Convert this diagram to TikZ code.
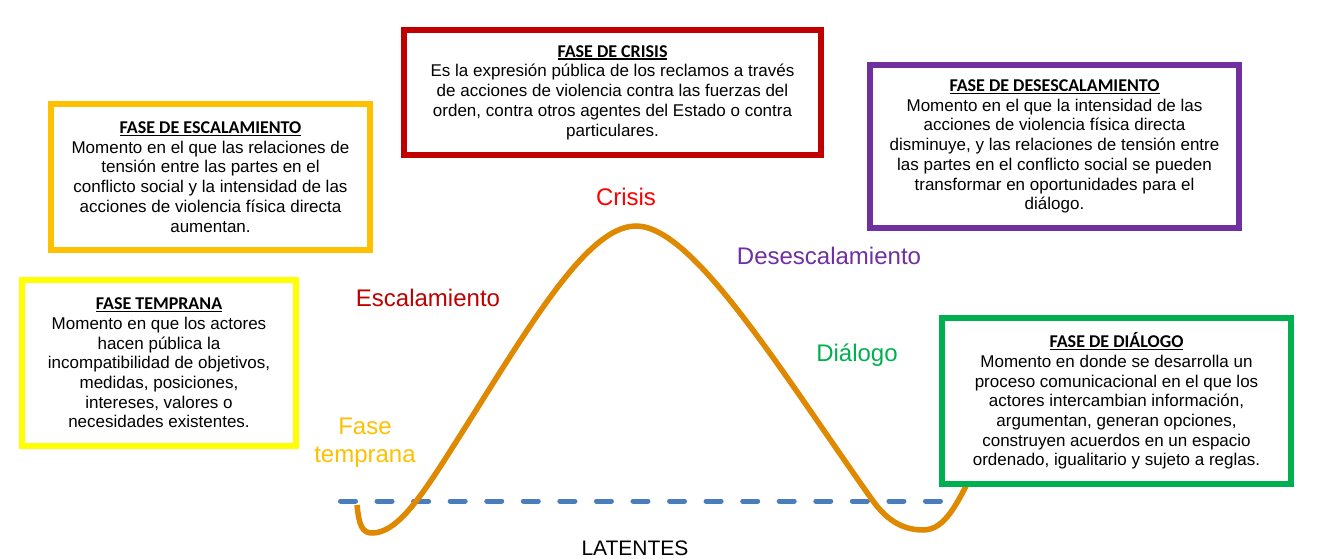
\documentclass[tikz,border=0pt]{standalone}
\usepackage{fontspec}
\setmainfont{Liberation Sans}
\newfontfamily\titlefont{Carlito}
\definecolor{cEsc}{HTML}{FFC000}
\definecolor{cTem}{HTML}{FFFF00}
\definecolor{cCri}{HTML}{C00000}
\definecolor{cRed}{HTML}{FF0000}
\definecolor{cDes}{HTML}{7030A0}
\definecolor{cDia}{HTML}{00B050}
\definecolor{cCurve}{HTML}{DE8900}
\definecolor{cDash}{HTML}{4A7EBB}
\newcommand\ttl[1]{{\titlefont\bfseries\fontsize{18}{19.7}\selectfont\setbox0\hbox{#1}\rlap{\rule[-2.3pt]{\wd0}{1.2pt}}\box0}}
\begin{document}
\begin{tikzpicture}[x=1pt,y=-1pt,
  box/.style={draw, line width=6pt, fill=white, align=center, inner sep=0pt,
    font=\fontsize{17}{19.7}\selectfont},
  lbl/.style={font=\fontsize{24}{28}\selectfont, anchor=base, inner sep=0pt},
  curve/.style={draw=cCurve, line width=5.5pt},
  dashline/.style={draw=cDash, line width=5pt, line cap=round, dash pattern=on 15pt off 21.56pt}]
\fill[white] (0,0) rectangle (1319,559);
\useasboundingbox (0,0) rectangle (1319,559);

% baseline (dashed)
\coordinate (d1) at (340.5,501);
\coordinate (d2) at (940.5,501);
\draw[dashline] (d1) -- (d2);

% curve
\coordinate (c0) at (357,505);
\coordinate (c1) at (373,533);
\coordinate (c2) at (440,467);
\coordinate (c3) at (636,226);
\coordinate (c4) at (873,501);
\coordinate (c5) at (923,530);
\coordinate (c6) at (978,462);
\draw[curve] (c0) .. controls (359,525) and (362,533.5) .. (c1)
  .. controls (395,532) and (415,505) .. (c2)
  .. controls (520,343) and (583,226) .. (c3)
  .. controls (693,226) and (780,370) .. (c4)
  .. controls (888,522) and (905,530) .. (c5)
  .. controls (946,530) and (958,502) .. (c6);

% boxes
\node[box, draw=cEsc, minimum width=319pt, minimum height=146pt] (esc) at (210.5,177)
 {\ttl{FASE DE ESCALAMIENTO}\\Momento en el que las relaciones de\\tensión entre las partes en el\\conflicto social y la intensidad de las\\acciones de violencia física directa\\aumentan.};
\node[box, draw=cTem, minimum width=274pt, minimum height=166pt] (tem) at (159,363)
 {\ttl{FASE TEMPRANA}\\Momento en que los actores\\hacen pública la\\incompatibilidad de objetivos,\\medidas, posiciones,\\intereses, valores o\\necesidades existentes.};
\node[box, draw=cCri, minimum width=417pt, minimum height=125pt] (cri) at (612.5,92.5)
 {\ttl{FASE DE CRISIS}\\Es la expresión pública de los reclamos a través\\de acciones de violencia contra las fuerzas del\\orden, contra otros agentes del Estado o contra\\particulares.};
\node[box, draw=cDes, minimum width=369pt, minimum height=163pt] (des) at (1054.5,146.5)
 {\ttl{FASE DE DESESCALAMIENTO}\\Momento en el que la intensidad de las\\acciones de violencia física directa\\disminuye, y las relaciones de tensión entre\\las partes en el conflicto social se pueden\\transformar en oportunidades para el\\diálogo.};
\node[box, draw=cDia, minimum width=349pt, minimum height=166pt] (dia) at (1116.5,401)
 {\ttl{FASE DE DIÁLOGO}\\Momento en donde se desarrolla un\\proceso comunicacional en el que los\\actores intercambian información,\\argumentan, generan opciones,\\construyen acuerdos en un espacio\\ordenado, igualitario y sujeto a reglas.};

% phase labels
\node[lbl, text=cRed] (lcri) at (626,205) {Crisis};
\node[lbl, text=cCri] (lesc) at (428,306) {Escalamiento};
\node[lbl, text=cDes] (ldes) at (829,264) {Desescalamiento};
\node[lbl, text=cDia] (ldia) at (857,361) {Diálogo};
\node[lbl, text=cEsc, anchor=center, align=center, font=\fontsize{24}{28}\selectfont] (ltem) at (365,443) {Fase\\temprana};
\node[lbl, font=\fontsize{21}{24}\selectfont] (llat) at (635,555) {LATENTES};
\end{tikzpicture}
\end{document}
